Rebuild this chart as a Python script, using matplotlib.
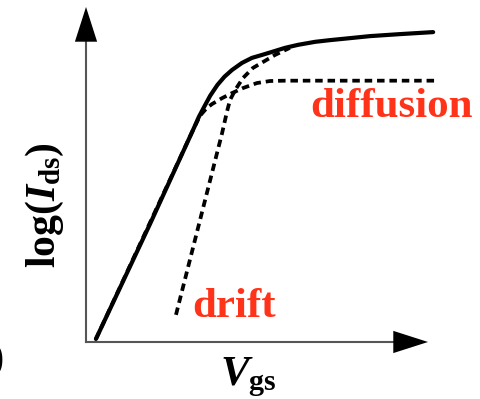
"""Sketch of drain current vs gate voltage: drift and diffusion regimes."""

import matplotlib
matplotlib.use('Agg')
import matplotlib.pyplot as plt

plt.rcParams['mathtext.fontset'] = 'custom'
plt.rcParams['mathtext.rm'] = 'Liberation Serif:bold'
plt.rcParams['mathtext.it'] = 'Liberation Serif:italic:bold'
plt.rcParams['mathtext.bf'] = 'Liberation Serif:bold'

# total current, log(Ids) vs Vgs (arbitrary units, axes run 0..10)
total_vgs = [0.29, 1.87, 3.13, 3.30, 3.46, 3.63, 3.84, 4.05, 4.27, 4.56, 4.85,
             5.15, 5.44, 5.82, 6.20, 6.70, 7.13, 7.72, 8.30, 9.18, 10.15]
total_log = [0.09, 3.52, 6.33, 6.72, 7.03, 7.35, 7.67, 7.92, 8.12, 8.33, 8.48,
             8.57, 8.66, 8.78, 8.87, 8.96, 9.01, 9.07, 9.13, 9.19, 9.25]

# diffusion component
diff_vgs = [0.29, 3.13, 3.33, 3.51, 3.68, 3.98, 4.27, 4.59, 5.00, 5.38, 5.82, 10.26]
diff_log = [0.09, 6.33, 6.75, 6.96, 7.10, 7.28, 7.43, 7.58, 7.73, 7.79, 7.80, 7.80]

# drift component
drift_vgs = [2.63, 3.98, 4.12, 4.21, 4.36, 4.59, 4.88, 5.18, 5.53, 5.96]
drift_log = [0.81, 6.24, 6.87, 7.22, 7.52, 7.88, 8.18, 8.36, 8.57, 8.78]

RED = '#ff3319'
AXIS_GRAY = '#555555'
SERIF = 'Liberation Serif'

fig = plt.figure(figsize=(4.8, 3.99), dpi=100)
ax = fig.add_axes([0.1792, 0.1429, 0.7125, 0.8396])
ax.set_xlim(0, 10)
ax.set_ylim(0, 10)
ax.axis('off')

# axes drawn by hand: gray shafts, black arrow heads
ax.plot([0, 0], [0, 9.0], color=AXIS_GRAY, lw=1.5, clip_on=False)
ax.plot([0, 9.0], [0, 0], color=AXIS_GRAY, lw=1.5, clip_on=False)
head = '-|>,head_length=1.25,head_width=0.4'
ax.annotate('', xy=(0, 10), xytext=(0, 8.9),
            arrowprops=dict(arrowstyle=head, mutation_scale=20, color='black',
                            lw=0, shrinkA=0, shrinkB=0), annotation_clip=False)
ax.annotate('', xy=(10, 0), xytext=(8.9, 0),
            arrowprops=dict(arrowstyle=head, mutation_scale=20, color='black',
                            lw=0, shrinkA=0, shrinkB=0), annotation_clip=False)

dash = (0, (2.0, 1.3))
ax.plot(diff_vgs, diff_log, color='black', lw=2.7, linestyle=dash, clip_on=False, zorder=2)
ax.plot(drift_vgs, drift_log, color='black', lw=2.7, linestyle=dash, clip_on=False, zorder=2)
ax.plot(total_vgs, total_log, color='black', lw=3.0, clip_on=False, zorder=3,
        solid_capstyle='round')

ax.text(8.92, 6.72, 'diffusion', color=RED, family=SERIF, weight='bold',
        fontsize=31, ha='center', va='baseline')
ax.text(4.34, 0.75, 'drift', color=RED, family=SERIF, weight='bold',
        fontsize=31, ha='center', va='baseline')

ax.text(3.92, -1.28, r'$V_{\mathrm{gs}}$', fontsize=31, ha='left', va='baseline')
ax.text(-0.91, 2.21, r'$\mathrm{log(}I_{\mathrm{ds}}\mathrm{)}$', fontsize=30,
        rotation=90, rotation_mode='anchor', ha='left', va='baseline')

# panel tag, mostly off the left edge
ax.text(-2.40, -0.54, '(a)', family=SERIF, weight='bold', fontsize=31,
        ha='right', va='center', clip_on=False)

fig.savefig('out.png', dpi=100)
